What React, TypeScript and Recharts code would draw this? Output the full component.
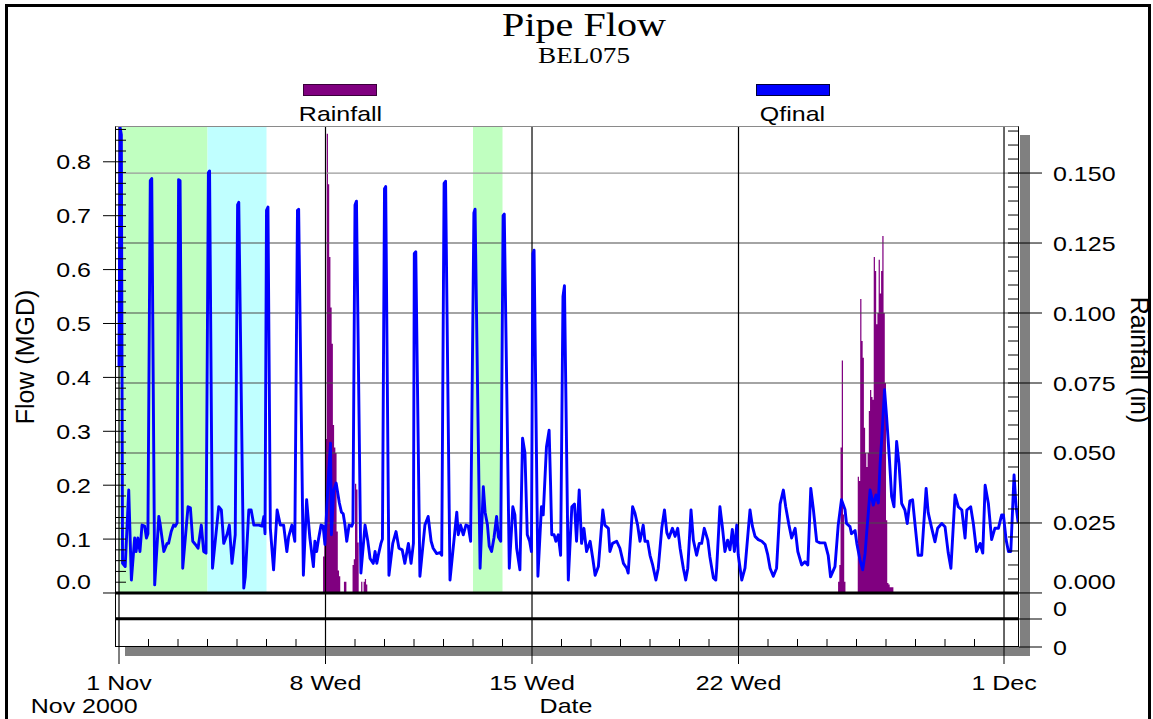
import React from 'react';
import { ComposedChart, Line, Area, XAxis, YAxis, ReferenceLine, ReferenceArea } from 'recharts';

// Qfinal flow readings, [day since 1 Nov 00:00, MGD]
const flowWeek1: [number, number][] = [
  [0.0, 0.42], [0.04, 0.863], [0.08, 0.85], [0.12, 0.055], [0.21, 0.049], [0.33, 0.191], [0.42, 0.024],
  [0.53, 0.102], [0.58, 0.077], [0.64, 0.102], [0.71, 0.077], [0.78, 0.126], [0.87, 0.124], [0.93, 0.102],
  [0.98, 0.11], [1.06, 0.765], [1.11, 0.769], [1.21, 0.015], [1.35, 0.142], [1.4, 0.126], [1.52, 0.077],
  [1.63, 0.092], [1.68, 0.092], [1.77, 0.114], [1.85, 0.126], [1.91, 0.124], [1.97, 0.13], [2.02, 0.767],
  [2.07, 0.765], [2.16, 0.046], [2.34, 0.16], [2.42, 0.158], [2.5, 0.096], [2.59, 0.09], [2.68, 0.083],
  [2.79, 0.126], [2.87, 0.077], [2.95, 0.074], [3.03, 0.78], [3.07, 0.783], [3.17, 0.046], [3.38, 0.16],
  [3.47, 0.154], [3.55, 0.092], [3.66, 0.108], [3.74, 0.126], [3.83, 0.055], [3.94, 0.108], [4.02, 0.72],
  [4.06, 0.725], [4.23, 0.009], [4.28, 0.03], [4.4, 0.154], [4.48, 0.154], [4.57, 0.126], [4.74, 0.126],
  [4.85, 0.124], [4.91, 0.142], [4.95, 0.11], [5.0, 0.71], [5.05, 0.716], [5.13, 0.12], [5.24, 0.043],
  [5.36, 0.154], [5.47, 0.126], [5.58, 0.126], [5.69, 0.077], [5.75, 0.104], [5.86, 0.126], [5.96, 0.096],
  [6.05, 0.71], [6.09, 0.712], [6.25, 0.033], [6.36, 0.173], [6.47, 0.102], [6.59, 0.049], [6.64, 0.096],
  [6.7, 0.077], [6.76, 0.099], [6.85, 0.126], [6.92, 0.124], [6.98, 0.09],
];
const flowWeek2: [number, number][] = [
  [7.11, 0.228], [7.17, 0.278], [7.2, 0.108], [7.28, 0.191], [7.36, 0.204], [7.47, 0.167], [7.54, 0.15],
  [7.6, 0.147], [7.66, 0.126], [7.72, 0.096], [7.8, 0.126], [7.89, 0.124], [7.93, 0.13], [8.0, 0.72],
  [8.05, 0.727], [8.2, 0.037], [8.34, 0.126], [8.43, 0.098], [8.51, 0.064], [8.62, 0.055], [8.68, 0.077],
  [8.74, 0.055], [8.79, 0.07], [8.88, 0.092], [8.93, 0.1], [9.0, 0.75], [9.04, 0.754], [9.15, 0.033],
  [9.28, 0.092], [9.39, 0.114], [9.49, 0.083], [9.6, 0.08], [9.69, 0.055], [9.81, 0.092], [9.9, 0.055],
  [9.98, 0.092], [10.01, 0.63], [10.06, 0.633], [10.2, 0.031], [10.37, 0.126], [10.48, 0.142], [10.58, 0.096],
  [10.65, 0.083], [10.77, 0.073], [10.88, 0.075], [10.94, 0.07], [11.02, 0.76], [11.07, 0.764], [11.22, 0.024],
  [11.45, 0.15], [11.5, 0.108], [11.58, 0.126], [11.67, 0.108], [11.76, 0.126], [11.84, 0.124], [11.92, 0.096],
  [12.03, 0.705], [12.07, 0.712], [12.24, 0.046], [12.35, 0.197], [12.41, 0.15], [12.49, 0.126], [12.55, 0.087],
  [12.63, 0.077], [12.71, 0.102], [12.8, 0.142], [12.86, 0.104], [12.94, 0.096], [13.02, 0.7], [13.06, 0.703],
  [13.23, 0.046], [13.35, 0.16], [13.42, 0.145], [13.48, 0.083], [13.59, 0.043], [13.68, 0.287], [13.76, 0.26],
  [13.84, 0.108], [13.92, 0.096], [13.98, 0.077],
];
const flowWeek3: [number, number][] = [
  [14.03, 0.63], [14.07, 0.636], [14.2, 0.031], [14.32, 0.16], [14.38, 0.145], [14.49, 0.271], [14.58, 0.302],
  [14.63, 0.2], [14.67, 0.108], [14.75, 0.108], [14.81, 0.096], [14.89, 0.108], [14.97, 0.07], [15.05, 0.55],
  [15.1, 0.57], [15.23, 0.024], [15.35, 0.16], [15.44, 0.165], [15.51, 0.096], [15.6, 0.191], [15.68, 0.092],
  [15.76, 0.12], [15.85, 0.077], [15.97, 0.096], [16.06, 0.064], [16.14, 0.033], [16.25, 0.049], [16.4, 0.154],
  [16.47, 0.126], [16.59, 0.12], [16.64, 0.077], [16.73, 0.092], [16.87, 0.096], [16.98, 0.083], [17.1, 0.055],
  [17.21, 0.046], [17.26, 0.037], [17.41, 0.16], [17.49, 0.148], [17.58, 0.126], [17.66, 0.096], [17.77, 0.126],
  [17.83, 0.096], [17.92, 0.096], [18.0, 0.07], [18.09, 0.052], [18.2, 0.024], [18.28, 0.046], [18.4, 0.121],
  [18.49, 0.154], [18.57, 0.112], [18.64, 0.102], [18.68, 0.108], [18.76, 0.12], [18.85, 0.105], [18.94, 0.12],
  [19.02, 0.083], [19.13, 0.046], [19.21, 0.024], [19.28, 0.046], [19.39, 0.154], [19.47, 0.098], [19.58, 0.07],
  [19.67, 0.092], [19.75, 0.092], [19.84, 0.12], [19.96, 0.098], [20.03, 0.067], [20.15, 0.028], [20.23, 0.024],
  [20.26, 0.046], [20.37, 0.16], [20.45, 0.124], [20.54, 0.077], [20.63, 0.098], [20.71, 0.08], [20.79, 0.118],
  [20.86, 0.077], [20.94, 0.126], [20.99, 0.071],
];
const flowWeek4: [number, number][] = [
  [21.11, 0.024], [21.22, 0.046], [21.39, 0.154], [21.47, 0.124], [21.56, 0.105], [21.67, 0.099], [21.79, 0.096],
  [21.9, 0.09], [21.99, 0.071], [22.07, 0.046], [22.18, 0.031], [22.29, 0.046], [22.41, 0.165], [22.52, 0.191],
  [22.6, 0.16], [22.71, 0.126], [22.8, 0.102], [22.92, 0.12], [23.01, 0.077], [23.14, 0.052], [23.25, 0.058],
  [23.35, 0.052], [23.45, 0.194], [23.54, 0.154], [23.65, 0.096], [23.76, 0.093], [23.93, 0.093], [24.04, 0.07],
  [24.12, 0.03], [24.27, 0.049], [24.38, 0.126], [24.49, 0.173], [24.61, 0.155], [24.66, 0.129], [24.78, 0.123],
  [24.83, 0.11], [24.95, 0.116], [25.01, 0.092], [25.12, 0.061], [25.21, 0.043], [25.29, 0.073], [25.35, 0.115],
  [25.46, 0.191], [25.57, 0.163], [25.66, 0.182], [25.74, 0.167], [25.8, 0.24], [25.86, 0.29], [25.95, 0.377],
  [26.02, 0.327], [26.11, 0.253], [26.19, 0.179], [26.27, 0.16], [26.36, 0.281], [26.44, 0.24], [26.53, 0.166],
  [26.64, 0.154], [26.72, 0.129], [26.81, 0.171], [26.9, 0.173], [26.98, 0.129], [27.09, 0.07], [27.21, 0.07],
  [27.36, 0.194], [27.43, 0.149], [27.55, 0.12], [27.66, 0.095], [27.75, 0.12], [27.89, 0.129], [28.0, 0.123],
  [28.11, 0.074], [28.2, 0.046], [28.34, 0.182], [28.45, 0.16], [28.57, 0.154], [28.68, 0.102], [28.74, 0.154],
  [28.87, 0.16], [28.96, 0.129], [29.07, 0.077], [29.19, 0.092], [29.28, 0.074], [29.36, 0.2], [29.47, 0.166],
  [29.58, 0.099], [29.69, 0.12], [29.81, 0.12], [29.92, 0.145], [29.98, 0.145], [30.07, 0.099], [30.15, 0.077],
  [30.23, 0.077], [30.34, 0.219], [30.41, 0.16], [30.48, 0.13],
];

// hourly rainfall (in), first hour counted from 1 Nov 00:00
const rainStorm1Hour = 166;
const rainStorm1 = [
  0.013, 0.017, 0.055, 0.164, 0.146, 0.12, 0.102, 0.089, 0.06, 0.052, 0.05, 0.022, 0.008, 0.006, 0, 0, 0, 0.004,
  0.004, 0, 0, 0, 0, 0, 0.01, 0.012, 0.039, 0.037, 0.018, 0, 0, 0.004, 0, 0.004, 0.005, 0.003,
];
const rainStorm2Hour = 585;
const rainStorm2 = [
  0.004, 0.01, 0.052, 0.083, 0.028, 0.004, 0, 0, 0, 0, 0, 0, 0, 0, 0, 0, 0.0415, 0.04, 0.105, 0.09, 0.084, 0.059,
  0.05, 0.045, 0.05, 0.065, 0.0725, 0.07, 0.069, 0.12, 0.115, 0.096, 0.1, 0.119, 0.107, 0.115, 0.1275, 0.1, 0.075,
  0.026, 0.0036, 0.003, 0.002, 0.002, 0.002,
];

// shaded day bands [from day, to day]
const greenBands: [number, number][] = [[0, 3], [12, 13]];
const cyanBands: [number, number][] = [[3, 5]];

const majorDays = [0, 7, 14, 21, 30];
const majorLabels = ['1 Nov', '8 Wed', '15 Wed', '22 Wed', '1 Dec'];
const rainGrid = [0.025, 0.05, 0.075, 0.1, 0.125, 0.15];

const LEFT_DOMAIN: [number, number] = [-0.1002, 0.8664];
const RIGHT_DOMAIN: [number, number] = [-0.0193, 0.1668];
const X_DOMAIN: [number, number] = [-0.1356, 30.508];
const STRIP_DIVIDER = -0.048; // left-axis value of the line between the two empty strips
const RIGHT_STRIP_TICK = -0.0093;

const W = 1153;
const H = 719;
const PLOT = { left: 115, right: 1019, top: 126, bottom: 647 };
const SX = 1.19;
const SANS = '"Liberation Sans", Arial, sans-serif';
const SERIF = '"Liberation Serif", "Times New Roman", serif';

const leftTicks = Array.from({ length: 44 }, (_, i) => +(i * 0.02).toFixed(2));
const rightTicks = [RIGHT_DOMAIN[0], RIGHT_STRIP_TICK, ...Array.from({ length: 34 }, (_, i) => +(i * 0.005).toFixed(3))];
const dayTicks = Array.from({ length: 31 }, (_, i) => i);

type Row = { t: number; flow?: number; rain?: number };

// each hourly total is held until the next hour; a closing zero ends the storm
const stormRows = (start: number, values: number[]): Row[] => [
  ...values.map((rain, i) => ({ t: (start + i) / 24, rain })),
  { t: (start + values.length) / 24, rain: 0 },
];

const rows: Row[] = [
  ...[...flowWeek1, ...flowWeek2, ...flowWeek3, ...flowWeek4].map(([t, flow]) => ({ t, flow })),
  ...stormRows(rainStorm1Hour, rainStorm1),
  ...stormRows(rainStorm2Hour, rainStorm2),
].sort((a, b) => a.t - b.t);

function Label({ x, y, anchor, children }: { x: number; y: number; anchor: string; children: React.ReactNode }) {
  return (
    <text transform={`translate(${x},${y}) scale(${SX},1)`} textAnchor={anchor} fontSize={21} fontFamily={SANS} fill="#000">
      {children}
    </text>
  );
}

function LeftTick(props: any) {
  const { y, payload } = props;
  const v: number = payload.value;
  const major = Math.abs(v * 10 - Math.round(v * 10)) < 1e-6;
  if (!major) return <line x1={PLOT.left} x2={PLOT.left + 11} y1={y} y2={y} stroke="#000" />;
  return (
    <g>
      <line x1={PLOT.left - 12} x2={PLOT.left + 11} y1={y} y2={y} stroke="#000" />
      <Label x={91} y={(v === 0 ? y - 11 : y) + 7.5} anchor="end">{v.toFixed(1)}</Label>
    </g>
  );
}

function RightTick(props: any) {
  const { y, payload } = props;
  const v: number = payload.value;
  if (v < 0) {
    return (
      <g>
        <line x1={PLOT.right} x2={PLOT.right + 23} y1={y} y2={y} stroke="#000" />
        <Label x={1053} y={(v === RIGHT_STRIP_TICK ? y - 11 : y) + 7.5} anchor="start">0</Label>
      </g>
    );
  }
  const major = Math.abs(v / 0.025 - Math.round(v / 0.025)) < 1e-6;
  if (!major) return <line x1={PLOT.right - 11} x2={PLOT.right} y1={y} y2={y} stroke="#000" />;
  return (
    <g>
      <line x1={PLOT.right - 11} x2={PLOT.right + 23} y1={y} y2={y} stroke="#000" />
      <Label x={1053} y={(v === 0 ? y - 11 : y) + 7.5} anchor="start">{v.toFixed(3)}</Label>
    </g>
  );
}

function DayTick(props: any) {
  const { x, payload } = props;
  const i = majorDays.indexOf(payload.value);
  if (i < 0) return <line x1={x} x2={x} y1={PLOT.bottom - 8} y2={PLOT.bottom} stroke="#000" />;
  return (
    <g>
      <line x1={x} x2={x} y1={PLOT.bottom} y2={PLOT.bottom + 17} stroke="#000" />
      <Label x={x} y={690} anchor="middle">{majorLabels[i]}</Label>
    </g>
  );
}

export default function App() {
  return (
    <div style={{ position: 'absolute', left: 0, top: 0, width: W, height: H, overflow: 'hidden', background: '#fff' }}>
      <div style={{ position: 'absolute', left: 5, top: 4, width: 1140, height: 800, border: '3px solid #000' }} />
      {/* drop shadow of the plot frame */}
      <div style={{ position: 'absolute', left: 125, top: PLOT.bottom, width: 905, height: 9, background: '#808080' }} />
      <div style={{ position: 'absolute', left: PLOT.right + 1, top: 135, width: 10, height: 521, background: '#808080' }} />

      <div style={{ position: 'absolute', left: 0, top: 0 }}>
        <ComposedChart width={W} height={H} data={rows} margin={{ top: 126, right: 14, bottom: 12, left: 15 }}>
          <XAxis
            dataKey="t"
            type="number"
            domain={X_DOMAIN}
            allowDataOverflow
            ticks={dayTicks}
            interval={0}
            tick={DayTick}
            axisLine={false}
            tickLine={false}
            height={60}
          />
          <YAxis
            yAxisId="left"
            type="number"
            domain={LEFT_DOMAIN}
            allowDataOverflow
            ticks={leftTicks}
            interval={0}
            tick={LeftTick}
            axisLine={false}
            tickLine={false}
            width={100}
          />
          <YAxis
            yAxisId="right"
            orientation="right"
            type="number"
            domain={RIGHT_DOMAIN}
            allowDataOverflow
            ticks={rightTicks}
            interval={0}
            tick={RightTick}
            axisLine={false}
            tickLine={false}
            width={120}
          />
          {greenBands.map(([a, b]) => (
            <ReferenceArea key={`g${a}`} yAxisId="left" x1={a} x2={b} y1={0} y2={LEFT_DOMAIN[1]} fill="#C0FFC0" fillOpacity={1} stroke="none" />
          ))}
          {cyanBands.map(([a, b]) => (
            <ReferenceArea key={`c${a}`} yAxisId="left" x1={a} x2={b} y1={0} y2={LEFT_DOMAIN[1]} fill="#C0FFFF" fillOpacity={1} stroke="none" />
          ))}
          {rainGrid.map(v => (
            <ReferenceLine key={v} yAxisId="right" y={v} stroke={v === 0.15 ? '#9a9a9a' : '#4a4a4a'} strokeWidth={1.2} />
          ))}
          {majorDays.map(d => (
            <ReferenceLine key={`d${d}`} yAxisId="left" x={d} stroke="#000" strokeWidth={1.2} />
          ))}
          <Area
            yAxisId="right"
            dataKey="rain"
            name="Rainfall"
            type="stepAfter"
            baseValue={0}
            fill="#800080"
            fillOpacity={1}
            stroke="none"
            connectNulls
            dot={false}
            activeDot={false}
            isAnimationActive={false}
          />
          <Line
            yAxisId="left"
            dataKey="flow"
            name="Qfinal"
            type="linear"
            stroke="#0000FF"
            strokeWidth={2.9}
            strokeLinejoin="round"
            dot={false}
            connectNulls
            isAnimationActive={false}
          />
          <ReferenceLine yAxisId="left" y={0} stroke="#000" strokeWidth={3} />
          <ReferenceLine yAxisId="left" y={STRIP_DIVIDER} stroke="#000" strokeWidth={3} />
        </ComposedChart>
      </div>

      {/* plot frame */}
      <div
        style={{
          position: 'absolute',
          left: PLOT.left,
          top: PLOT.top,
          width: PLOT.right - PLOT.left,
          height: PLOT.bottom - PLOT.top,
          boxSizing: 'border-box',
          borderLeft: '1px solid #000',
          borderRight: '1px solid #000',
          borderBottom: '1px solid #000',
          borderTop: '1px solid #8a8a8a',
          pointerEvents: 'none',
        }}
      />

      <svg width={W} height={H} style={{ position: 'absolute', left: 0, top: 0, pointerEvents: 'none' }}>
        <text transform={`translate(584,36) scale(1.18,1)`} textAnchor="middle" fontSize={34} fontFamily={SERIF} fill="#000">
          Pipe Flow
        </text>
        <text transform={`translate(584,63) scale(1.18,1)`} textAnchor="middle" fontSize={23} fontFamily={SERIF} fill="#000">
          BEL075
        </text>
        <rect x={303.5} y={84.5} width={73} height={11} fill="#800080" stroke="#3a003a" />
        <Label x={340.5} y={121} anchor="middle">Rainfall</Label>
        <rect x={756.5} y={84.5} width={73} height={11} fill="#0000FF" stroke="#00003a" />
        <Label x={792.5} y={121} anchor="middle">Qfinal</Label>
        <text transform="translate(34,357) rotate(-90)" textAnchor="middle" fontSize={25} fontFamily={SANS} fill="#000">
          Flow (MGD)
        </text>
        <text transform="translate(1131,360) rotate(90)" textAnchor="middle" fontSize={25} fontFamily={SANS} fill="#000">
          Rainfall (in)
        </text>
        <Label x={30.7} y={713} anchor="start">Nov 2000</Label>
        <Label x={566} y={713} anchor="middle">Date</Label>
      </svg>
    </div>
  );
}
